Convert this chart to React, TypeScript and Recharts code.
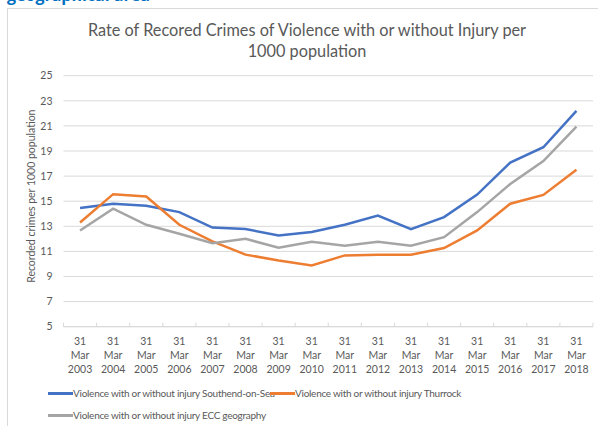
import React from "react";
import { LineChart, Line, XAxis, YAxis, CartesianGrid } from "recharts";

const years = ["2003","2004","2005","2006","2007","2008","2009","2010","2011","2012","2013","2014","2015","2016","2017","2018"];
const southend = [14.45,14.8,14.63,14.13,12.9,12.78,12.27,12.54,13.12,13.86,12.78,13.73,15.53,18.08,19.3,22.2];
const thurrock = [13.3,15.56,15.37,13.12,11.8,10.74,10.28,9.88,10.68,10.74,10.74,11.27,12.67,14.8,15.5,17.5];
const ecc = [12.67,14.4,13.12,12.4,11.66,12.0,11.3,11.76,11.45,11.76,11.45,12.13,14.13,16.37,18.2,20.94];
const yTicks = [5,7,9,11,13,15,17,19,21,23,25];

const seriesNames = {
  southend: "Violence with or without injury Southend-on-Sea",
  thurrock: "Violence with or without injury Thurrock",
  ecc: "Violence with or without injury ECC geography",
};

const data = years.map((y, i) => ({
  label: "31 Mar " + y,
  southend: southend[i],
  thurrock: thurrock[i],
  ecc: ecc[i],
}));

const FONT = "Lato, 'Open Sans', sans-serif";
const TXT = "#595959";
const GRID = "#d9d9d9";
const W = 598;
const H = 426;
const XH = 60;
const M = { top: 75.7, right: 5, bottom: 99.3 - XH, left: 0 };
const YW = 63.5;
const STEP = (W - M.right - YW) / years.length;

const XTick = (props: any) => {
  const { x, y, payload, index } = props;
  const parts = String(payload.value).split(" ");
  return (
    <g>
      <line x1={x - STEP / 2} x2={x - STEP / 2} y1={y - 4} y2={y} stroke={GRID} />
      {index === years.length - 1 && (
        <line x1={x + STEP / 2} x2={x + STEP / 2} y1={y - 4} y2={y} stroke={GRID} />
      )}
      <text x={x} y={y} textAnchor="middle" fill={TXT} fontSize={10.5} fontFamily={FONT}>
        {parts.map((p, i) => (
          <tspan key={i} x={x} dy={i === 0 ? 18 : 14}>{p}</tspan>
        ))}
      </text>
    </g>
  );
};

const LegendItem = ({ color, text, left, top }: any) => (
  <div style={{ position: "absolute", left, top, display: "flex", alignItems: "center", whiteSpace: "nowrap", height: 14 }}>
    <span style={{ display: "inline-block", width: 25, height: 3, background: color }} />
    <span style={{ fontSize: 10, letterSpacing: "-0.27px", color: TXT, fontFamily: FONT, lineHeight: "14px" }}>{text}</span>
  </div>
);

export default function App() {
  return (
    <div style={{ position: "absolute", left: 0, top: 0, width: W, height: H, background: "#fff", overflow: "hidden" }}>
      <div style={{ position: "absolute", left: 7, top: -16, fontFamily: "'Open Sans', sans-serif", fontWeight: 700, fontSize: 16, color: "#0070C0", whiteSpace: "nowrap" }}>
        geographical area
      </div>
      <div style={{ position: "absolute", left: 7, top: 8, width: 620, height: 440, border: "1px solid #d9d9d9", boxSizing: "border-box" }} />
      <div style={{ position: "absolute", left: 0, top: 19, width: 614, textAlign: "center", fontFamily: FONT, fontSize: 16.3, color: TXT, lineHeight: "21px" }}>
        Rate of Recored Crimes of Violence with or without Injury per<br />1000 population
      </div>
      <div style={{ position: "absolute", left: 0, top: 0 }}>
        <LineChart width={W} height={H} data={data} margin={M}>
          <CartesianGrid vertical={false} stroke={GRID} />
          <XAxis
            dataKey="label"
            interval={0}
            tick={<XTick />}
            tickLine={false}
            axisLine={{ stroke: GRID }}
            tickSize={0}
            tickMargin={0}
            height={XH}
            padding={{ left: STEP / 2, right: STEP / 2 }}
          />
          <YAxis
            domain={[5, 25]}
            ticks={yTicks}
            interval={0}
            width={YW}
            axisLine={false}
            tickLine={false}
            tickSize={0}
            tickMargin={11}
            tick={{ fill: TXT, fontSize: 10.5, fontFamily: FONT }}
            label={{ value: "Recorded crimes per 1000 population", angle: -90, position: "insideLeft", dx: 26, dy: -5, style: { textAnchor: "middle", fill: TXT, fontSize: 10.5, fontFamily: FONT } }}
          />
          <Line dataKey="southend" name={seriesNames.southend} stroke="#4472C4" strokeWidth={2.5} dot={false} isAnimationActive={false} />
          <Line dataKey="thurrock" name={seriesNames.thurrock} stroke="#ED7D31" strokeWidth={2.5} dot={false} isAnimationActive={false} />
          <Line dataKey="ecc" name={seriesNames.ecc} stroke="#A5A5A5" strokeWidth={2.5} dot={false} isAnimationActive={false} />
        </LineChart>
      </div>
      <LegendItem color="#4472C4" text={seriesNames.southend} left={48} top={386} />
      <LegendItem color="#ED7D31" text={seriesNames.thurrock} left={270} top={386} />
      <LegendItem color="#A5A5A5" text={seriesNames.ecc} left={48} top={408} />
    </div>
  );
}
